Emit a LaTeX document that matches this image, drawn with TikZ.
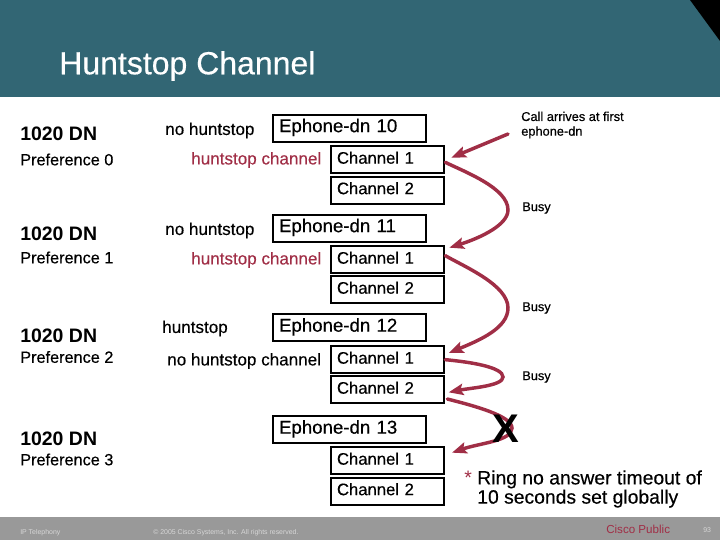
\documentclass[tikz,border=0pt]{standalone}
\usepackage{fontspec}
\setmainfont{Liberation Sans}
\newfontfamily\heavyfont[FakeBold=0.35]{Liberation Sans}
\usetikzlibrary{arrows.meta}
\definecolor{bandteal}{RGB}{50,102,116}
\definecolor{huntred}{RGB}{160,46,70}
\definecolor{footgray}{RGB}{153,153,153}
\definecolor{foottext}{RGB}{215,215,215}
\begin{document}
\begin{tikzpicture}
            [x=0.75pt, y=-0.75pt,
            txt/.style = {anchor=west, inner sep=0pt, text=black},
            dn/.style = {txt, font=\fontsize{14.6}{16}\selectfont\bfseries},
            pref/.style = {txt, font=\heavyfont\fontsize{12.2}{14}\selectfont},
            hunt/.style = {txt, font=\heavyfont\fontsize{12.8}{14}\selectfont},
            note/.style = {txt, font=\heavyfont\fontsize{9.6}{11}\selectfont},
            foot/.style = {txt, text=foottext, font=\fontsize{5.2}{7}\selectfont},
            ephone/.style = {draw, line width=1.5pt, anchor=north west, inner xsep=4.5pt, inner ysep=0pt,
                text width=105.5pt, minimum height=20.5pt, text height=9.5pt, text depth=3.5pt,
                font=\heavyfont\fontsize{14}{16}\selectfont},
            chan/.style = {draw, line width=1.5pt, anchor=north west, inner xsep=4.5pt, inner ysep=0pt,
                text width=76pt, minimum height=20.5pt, text height=9pt, text depth=3pt,
                font=\heavyfont\fontsize{12.5}{14}\selectfont},
            call/.style = {draw=huntred, line width=2.6pt, line cap=round,
                -{Stealth[length=11pt, width=8.5pt, inset=2pt]}}]
            \useasboundingbox (0,0) rectangle (720,540);
            % slide frame
            \fill[bandteal] (0,0) rectangle (720,97);
            \fill[black] (690,0) -- (720,0) -- (720,41) -- cycle;
            \fill[footgray] (0,517) rectangle (720,540);
            \node[txt, text=white, font=\heavyfont\fontsize{24}{26}\selectfont] (title) at (59,66) {Huntstop Channel};
            % first ephone-dn
            \node[dn] (dn0) at (20,134) {1020 DN};
            \node[pref] (pref0) at (20,159.5) {Preference 0};
            \node[hunt] (mode0) at (165,130.5) {no huntstop};
            \node[hunt, text=huntred] (chmode0) at (191,160) {huntstop channel};
            \node[ephone] (eph0) at (272,113.5) {Ephone-dn 10};
            \node[chan] (c01) at (330,145) {Channel 1};
            \node[chan] (c02) at (330,175.5) {Channel 2};
            % second ephone-dn
            \node[dn] (dn1) at (20,233.5) {1020 DN};
            \node[pref] (pref1) at (20,257.5) {Preference 1};
            \node[hunt] (mode1) at (165,230.5) {no huntstop};
            \node[hunt, text=huntred] (chmode1) at (191,260) {huntstop channel};
            \node[ephone] (eph1) at (272,213.5) {Ephone-dn 11};
            \node[chan] (c11) at (330,245) {Channel 1};
            \node[chan] (c12) at (330,275) {Channel 2};
            % third ephone-dn
            \node[dn] (dn2) at (20,336) {1020 DN};
            \node[pref] (pref2) at (20,357) {Preference 2};
            \node[hunt] (mode2) at (162,328.5) {huntstop};
            \node[hunt] (chmode2) at (167,361) {no huntstop channel};
            \node[ephone] (eph2) at (272,313) {Ephone-dn 12};
            \node[chan] (c21) at (330,345) {Channel 1};
            \node[chan] (c22) at (330,375) {Channel 2};
            % fourth ephone-dn
            \node[dn] (dn3) at (20,439) {1020 DN};
            \node[pref] (pref3) at (20,459.5) {Preference 3};
            \node[ephone] (eph3) at (272,415) {Ephone-dn 13};
            \node[chan] (c31) at (330,446) {Channel 1};
            \node[chan] (c32) at (330,476.5) {Channel 2};
            % call path
            \coordinate (start) at (508,134);
            \coordinate (bend0) at (508,210);
            \coordinate (bend1) at (508,308);
            \coordinate (bend2) at (503,377);
            \coordinate (bend3) at (512,428);
            \draw[call] (start) -- ([xshift=4.5pt,yshift=1.5pt]c01.east);
            \draw[call] ([yshift=-2pt]c01.east) .. controls (465,172) and (508,188) .. (bend0)
                .. controls (508,225) and (480,238) .. ([xshift=3pt,yshift=-2pt]c11.north east);
            \draw[call] ([yshift=3pt]c11.east) .. controls (465,267) and (508,285) .. (bend1)
                .. controls (508,328) and (480,340) .. ([xshift=2.5pt,yshift=5pt]c21.east);
            \draw[call] (c21.east) .. controls (470,362) and (503,367) .. (bend2)
                .. controls (503,386) and (470,388) .. ([xshift=2.5pt,yshift=-2pt]c22.east);
            \draw[call] ([xshift=1.5pt,yshift=4pt]c22.south east) .. controls (475,406) and (512,416) .. (bend3)
                .. controls (512,441) and (480,443) .. ([xshift=5pt,yshift=-5pt]c31.north east);
            \node[inner sep=0pt, font=\fontsize{30}{32}\selectfont\bfseries] (nope) at (505.5,428.5) {X};
            % notes
            \node[note, align=left] (arrive) at (521,125) {Call arrives at first\\ephone-dn};
            \node[note] (busy0) at (522,208) {Busy};
            \node[note] (busy1) at (522,308) {Busy};
            \node[note] (busy2) at (522,377) {Busy};
            \node[txt, text=huntred, font=\fontsize{14.6}{16}\selectfont] (star) at (464,478) {*};
            \node[txt, align=left, font=\heavyfont\fontsize{14.5}{14.4}\selectfont] (ring) at (477,489) {Ring no answer timeout of\\10 seconds set globally};
            % footer
            \node[foot] (topic) at (20,532.5) {IP Telephony};
            \node[foot] (copy) at (153,532.5) {© 2005 Cisco Systems, Inc. All rights reserved.};
            \node[txt, text=huntred, font=\fontsize{8.7}{10}\selectfont] (public) at (606,529) {Cisco Public};
            \node[foot] (page) at (703,530.5) {93};
        \end{tikzpicture}
\end{document}
